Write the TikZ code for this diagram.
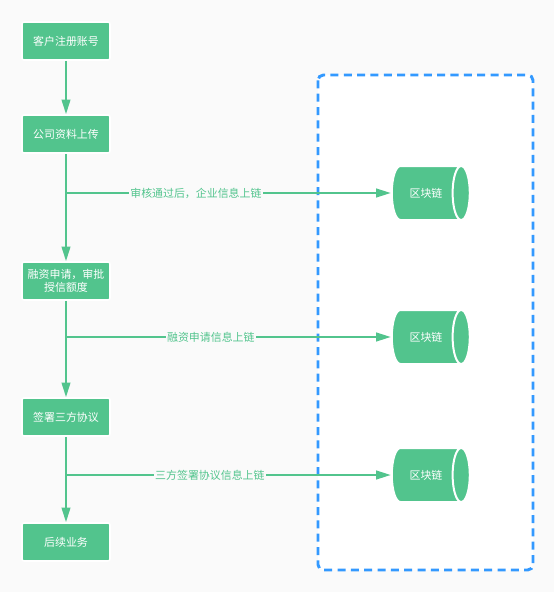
\documentclass[tikz,border=0pt]{standalone}
\usepackage{fontspec}
\setmainfont{Noto Sans CJK SC}
\usetikzlibrary{shapes.geometric,arrows.meta}
\definecolor{flowgreen}{RGB}{82,196,141}
\definecolor{chainblue}{RGB}{51,153,255}
\definecolor{pagebg}{RGB}{250,250,250}
\begin{document}
\begin{tikzpicture}[x=0.75pt,y=0.75pt,yscale=-1,xscale=1,
  stepbox/.style={fill=flowgreen,draw=white,line width=1.2pt,rounded corners=1.5pt,
    minimum width=66pt,minimum height=28.5pt,inner sep=0pt,align=center,
    text=white,font=\fontsize{8.2pt}{10pt}\selectfont},
  chainbox/.style={cylinder,shape border rotate=0,aspect=1.7,
    cylinder uses custom fill,cylinder body fill=flowgreen,cylinder end fill=flowgreen,
    draw=white,line width=1.5pt,minimum width=40.5pt,minimum height=58.5pt,inner sep=0pt,
    text=white,font=\fontsize{8.2pt}{10pt}\selectfont},
  flow/.style={draw=flowgreen,line width=1.5pt,-{Triangle[length=11pt,width=6.5pt]}},
  tag/.style={fill=pagebg,text=flowgreen,inner sep=1pt,font=\fontsize{8.2pt}{10pt}\selectfont}]
%Background
\fill [pagebg] (0,0) rectangle (554,592) ;
%Dashed frame
\draw [chainblue,line width=2.2pt,dash pattern=on 6pt off 4pt,rounded corners=4pt,fill=white]
(318,75) rectangle (533,570) ;
%Process boxes
\node [stepbox] (register) at (66,41) {客户注册账号};
\node [stepbox] (upload) at (66,134) {公司资料上传};
\node [stepbox] (apply) at (66,281) {融资申请，审批\\授信额度};
\node [stepbox] (sign) at (66,417) {签署三方协议};
\node [stepbox] (follow) at (66,542) {后续业务};
%Blockchain
\node [chainbox] (chainA) at (426,193) {区块链};
\node [chainbox] (chainB) at (426,337) {区块链};
\node [chainbox] (chainC) at (426,475) {区块链};
%Branch points
\coordinate (forkA) at (66,193) ;
\coordinate (forkB) at (66,337) ;
\coordinate (forkC) at (66,475) ;
%Main flow
\draw [flow] (register) -- (upload) ;
\draw [flow] (upload) -- (apply) ;
\draw [flow] (apply) -- (sign) ;
\draw [flow] (sign) -- (follow) ;
%Branches
\draw [flow] (forkA) -- node [tag,pos=0.4] {审核通过后，企业信息上链} (chainA) ;
\draw [flow] (forkB) -- node [tag,pos=0.446] {融资申请信息上链} (chainB) ;
\draw [flow] (forkC) -- node [tag,pos=0.443] {三方签署协议信息上链} (chainC) ;
\end{tikzpicture}
\end{document}
